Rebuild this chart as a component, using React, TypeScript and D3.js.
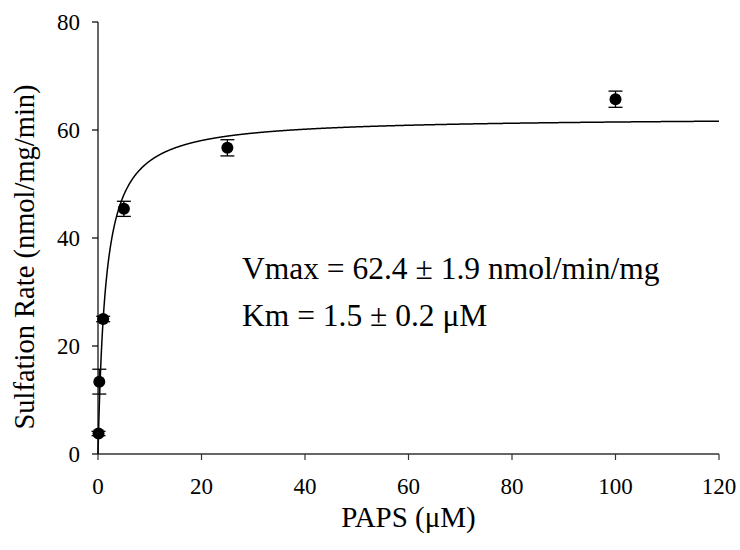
import React from 'react'
import * as d3 from 'd3'

// PAPS concentrations (uM) and measured sulfation rates
const paps = [0.1, 0.25, 1, 5, 25, 100]
const rates = [3.8, 13.4, 25.0, 45.4, 56.7, 65.7]
const errs = [0.4, 2.3, 0.5, 1.4, 1.5, 1.5]

const xTicks = [0, 20, 40, 60, 80, 100, 120]
const yTicks = [0, 20, 40, 60, 80]

// fitted Michaelis-Menten parameters
const vmax = 62.4
const km = 1.5

const W = 740
const H = 550
const margin = { top: 22, right: 21, bottom: 96, left: 98 }
const serif = { fontFamily: "'Liberation Serif', 'Times New Roman', Times, serif" }

export default function App() {
  const x = d3.scaleLinear().domain([0, 120]).range([margin.left, W - margin.right])
  const y = d3.scaleLinear().domain([0, 80]).range([H - margin.bottom, margin.top])

  // fitted curve sampled along the x domain
  const fitX = d3.range(0, 120.01, 0.05)
  const line = d3.line<number>()
    .x(d => x(d))
    .y(d => y(vmax * d / (km + d)))

  const x0 = x(0)
  const y0 = y(0)

  return (
    <svg width={W} height={H} style={{ position: 'absolute', left: 0, top: 0, background: '#fff' }}>
      {/* axes */}
      <g stroke='#000' strokeWidth={1.2} fill='none'>
        <line x1={x0} x2={x0} y1={y0} y2={y(80)} />
        <line x1={x0} x2={x(120)} y1={y0} y2={y0} stroke='#333' strokeWidth={1.6} />
        {yTicks.map(t => <line key={'yt' + t} x1={x0 - 6} x2={x0} y1={y(t)} y2={y(t)} />)}
        {xTicks.map(t => <line key={'xt' + t} x1={x(t)} x2={x(t)} y1={y0} y2={y0 + 6} stroke='#333' />)}
      </g>
      <g style={serif} fontSize={23} fill='#000'>
        {yTicks.map(t => (
          <text key={'yl' + t} x={x0 - 18} y={y(t)} dy='0.35em' textAnchor='end'>{t}</text>
        ))}
        {xTicks.map(t => (
          <text key={'xl' + t} x={x(t)} y={y0 + 40} textAnchor='middle'>{t}</text>
        ))}
      </g>

      {/* titles */}
      <text x={(x(0) + x(120)) / 2} y={527} textAnchor='middle' style={serif} fontSize={29}>PAPS (μM)</text>
      <text transform={`translate(34, ${257}) rotate(-90)`} textAnchor='middle' style={serif} fontSize={28.5}>
        Sulfation Rate (nmol/mg/min)
      </text>

      {/* fit */}
      <path d={line(fitX) || ''} fill='none' stroke='#000' strokeWidth={1.5} />

      {/* error bars */}
      <g stroke='#000' strokeWidth={1.3}>
        {paps.map((p, i) => (
          <g key={'e' + i}>
            <line x1={x(p)} x2={x(p)} y1={y(rates[i] - errs[i])} y2={y(rates[i] + errs[i])} />
            <line x1={x(p) - 7} x2={x(p) + 7} y1={y(rates[i] - errs[i])} y2={y(rates[i] - errs[i])} />
            <line x1={x(p) - 7} x2={x(p) + 7} y1={y(rates[i] + errs[i])} y2={y(rates[i] + errs[i])} />
          </g>
        ))}
      </g>

      {/* points */}
      {paps.map((p, i) => (
        <circle key={'p' + i} cx={x(p)} cy={y(rates[i])} r={6} fill='#000' />
      ))}

      {/* annotation */}
      <g style={serif} fontSize={31.5}>
        <text x={242} y={279}>Vmax = 62.4 ± 1.9 nmol/min/mg</text>
        <text x={242} y={326}>Km = 1.5 ± 0.2 μM</text>
      </g>
    </svg>
  )
}
